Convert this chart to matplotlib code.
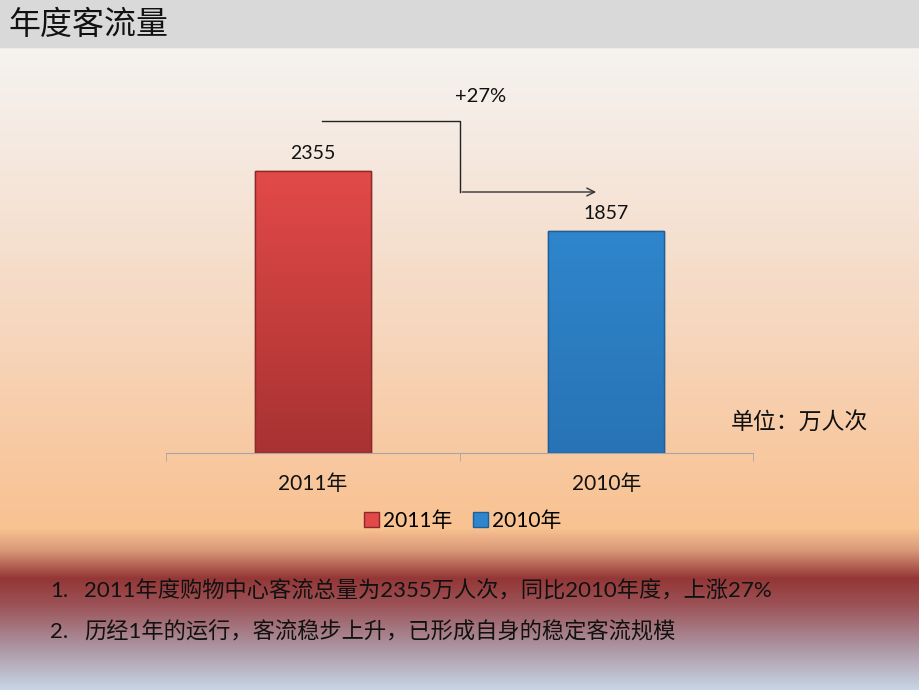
import numpy as np
import matplotlib
matplotlib.use("Agg")
import matplotlib.pyplot as plt
from matplotlib.patches import Rectangle, Patch
from matplotlib.colors import LinearSegmentedColormap, to_rgb

plt.rcParams['font.family'] = ['Lato', 'Noto Sans CJK SC', 'DejaVu Sans']

# ---- data ----
categories = ["2011年", "2010年"]
values = [2355, 1857]
series_names = ["2011年", "2010年"]
growth_label = "+27%"
unit_label = "单位：万人次"
title = "年度客流量"
notes = ["2011年度购物中心客流总量为2355万人次，同比2010年度，上涨27%",
         "历经1年的运行，客流稳步上升，已形成自身的稳定客流规模"]

W, H = 920, 690
fig = plt.figure(figsize=(W / 100, H / 100), dpi=100)

# ---- background gradient ----
bg = fig.add_axes([0, 0, 1, 1], zorder=0)
bg.set_xlim(0, W); bg.set_ylim(H, 0); bg.axis('off')
stops = [(47, "#f6f3f0"), (150, "#f5e9e0"), (300, "#f6dac4"), (450, "#f8c9a2"),
         (528, "#f9c291"), (550, "#d99878"), (578, "#943636"), (605, "#9c5358"),
         (645, "#ab929e"), (690, "#c8d7e7")]
ys = np.arange(47, H)
cols = np.zeros((len(ys), 1, 3))
sy = [s[0] for s in stops]
for c in range(3):
    cols[:, 0, c] = np.interp(ys, sy, [to_rgb(s[1])[c] for s in stops])
bg.imshow(cols, extent=(0, W, H, 47), aspect='auto', interpolation='bilinear')
bg.add_patch(Rectangle((0, 0), W, 47, color="#d9d9d9"))
bg.text(8, 25, title, fontsize=23, va='center', ha='left', color='#111111',
        family=['Noto Sans CJK SC'])

# notes
for i, t in enumerate(notes):
    y = 591 + i * 41
    bg.text(50, y, f"{i+1}.", fontsize=16, va='center', ha='left', color='#111111')
    bg.text(84, y, t, fontsize=16, va='center', ha='left', color='#111111')
bg.text(799, 422, unit_label, fontsize=16.5, va='center', ha='center', color='#111111',
        family=['Noto Sans CJK SC'])

# ---- main chart axes ----
left, right, bottom, top = 166, 753, 453, 100
ax = fig.add_axes([left / W, (H - bottom) / H, (right - left) / W, (bottom - top) / H], zorder=2)
ax.set_facecolor('none')
ymax = values[0] * (bottom - top) / (bottom - 171)
ax.set_ylim(0, ymax)
ax.set_xlim(-0.5, len(categories) - 0.5)
x = np.arange(len(categories))
bar_cols = [("#e24a48", "#a83232", "#8a2a2a"), ("#2f86cc", "#2873b5", "#1f5f99")]
bars = ax.bar(x, values, width=0.395, color=[c[0] for c in bar_cols], zorder=3)
for b, (c1, c2, ec) in zip(bars, bar_cols):
    b.set_edgecolor(ec); b.set_linewidth(1.0)
    cmap = LinearSegmentedColormap.from_list("g", [c1, c2])
    grad = np.linspace(0, 1, 256).reshape(-1, 1)
    x0, y0 = b.get_x(), b.get_y()
    im = ax.imshow(grad, cmap=cmap, aspect='auto', zorder=3.5, origin='upper',
                   extent=(x0, x0 + b.get_width(), y0, y0 + b.get_height()))
    im.set_clip_path(b)
    ax.add_patch(Rectangle((x0, y0), b.get_width(), b.get_height(), fill=False,
                           edgecolor=ec, linewidth=1.0, zorder=4))
    ax.text(b.get_x() + b.get_width() / 2, b.get_height() + ymax * 0.025, f"{b.get_height():.0f}",
            ha='center', va='bottom', fontsize=14, color='#111111')

for s in ['top', 'right', 'left']:
    ax.spines[s].set_visible(False)
ax.spines['bottom'].set_color('#a6a6a6')
ax.set_yticks([])
ax.set_xticks(x)
ax.set_xticklabels(categories, fontsize=15, color='#111111')
ax.tick_params(axis='x', which='major', length=0, pad=15)
ax.set_xticks([-0.5, 0.5, 1.5], minor=True)
ax.tick_params(axis='x', which='minor', length=6, color='#a6a6a6', direction='out')

# growth arrow
y_hi = ymax * (bottom - 121) / (bottom - top)
y_lo = ymax * (bottom - 192) / (bottom - top)
ax.plot([0.03, 0.5, 0.5], [y_hi, y_hi, y_lo], color='#222222', lw=1.0, clip_on=False, zorder=5)
ax.annotate("", xy=(0.975, y_lo), xytext=(0.5, y_lo),
            arrowprops=dict(arrowstyle='->', color='#333333', lw=1.0, mutation_scale=14),
            annotation_clip=False, zorder=5)
ax.text(0.573, ymax * (bottom - 97) / (bottom - top), growth_label, ha='center', va='center',
        fontsize=14.5, color='#111111')

# legend
handles = [Patch(facecolor=c[0], edgecolor=c[2], label=n) for c, n in zip(bar_cols, series_names)]
fig.legend(handles=handles, loc='center', bbox_to_anchor=(463 / W, 1 - 521 / H), ncol=2,
           frameon=False, fontsize=15, handlelength=0.7, handleheight=0.7,
           handletextpad=0.2, columnspacing=1.0)

fig.savefig("out.png", dpi=100)
